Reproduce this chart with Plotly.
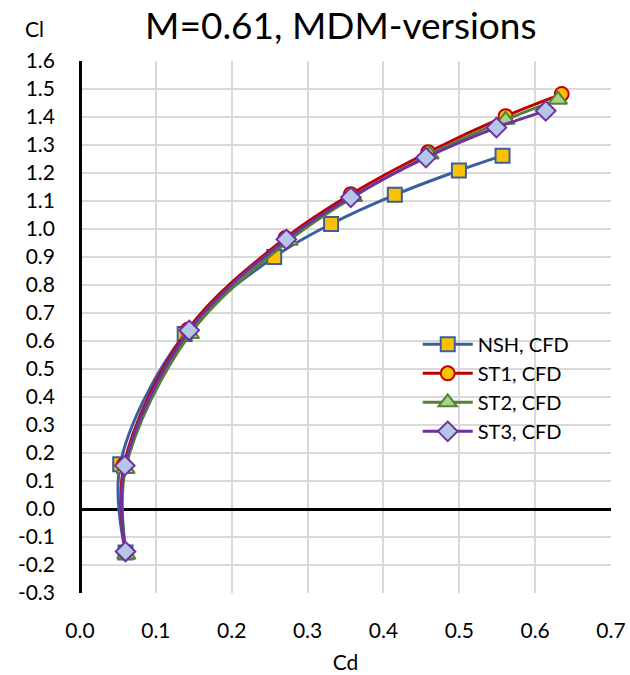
import plotly.graph_objects as go

# Data (Cd, Cl)
nsh_cd = [0.060, 0.053, 0.138, 0.256, 0.331, 0.415, 0.4995, 0.557]
nsh_cl = [-0.155, 0.160, 0.625, 0.900, 1.018, 1.122, 1.209, 1.262]

st1_cd = [0.060, 0.058, 0.142, 0.271, 0.357, 0.459, 0.561, 0.635]
st1_cl = [-0.152, 0.158, 0.640, 0.968, 1.124, 1.274, 1.403, 1.482]

st2_cd = [0.061, 0.060, 0.145, 0.275, 0.360, 0.461, 0.561, 0.630]
st2_cl = [-0.163, 0.143, 0.625, 0.958, 1.114, 1.266, 1.390, 1.462]

st3_cd = [0.060, 0.059, 0.144, 0.272, 0.357, 0.456, 0.549, 0.614]
st3_cl = [-0.152, 0.155, 0.638, 0.963, 1.113, 1.255, 1.362, 1.422]

names = ["NSH, CFD", "ST1, CFD", "ST2, CFD", "ST3, CFD"]
line_colors = ["#3A5F9E", "#C00000", "#548235", "#7030A0"]
fill_colors = ["#FFC000", "#FFC000", "#A9D18E", "#B4C7E7"]
symbols = ["square", "circle", "triangle-up", "diamond"]
sizes = [14, 14, 16, 15]

xs = [nsh_cd, st1_cd, st2_cd, st3_cd]
ys = [nsh_cl, st1_cl, st2_cl, st3_cl]

x_ticks = [0.0, 0.1, 0.2, 0.3, 0.4, 0.5, 0.6, 0.7]
y_ticks = [round(-0.3 + 0.1 * i, 1) for i in range(20)]

font = "Lato, 'Open Sans', sans-serif"

fig = go.Figure()
for x, y, n, lc, fc, s, sz in zip(xs, ys, names, line_colors, fill_colors, symbols, sizes):
    fig.add_trace(go.Scatter(
        x=x, y=y, name=n, mode="lines+markers",
        line=dict(color=lc, width=3, shape="spline", smoothing=1.0),
        marker=dict(symbol=s, size=sz, color=fc, line=dict(color=lc, width=2)),
    ))

fig.update_layout(
    width=630, height=675,
    margin=dict(l=80, r=19, t=61, b=82, autoexpand=False),
    paper_bgcolor="white", plot_bgcolor="white",
    font=dict(family=font, color="#000000", size=21),
    title=dict(text="M=0.61, MDM-versions", x=0.541, xanchor="center",
               y=0.962, yanchor="middle", font=dict(size=37, family=font)),
    showlegend=True,
    legend=dict(x=0.636, y=0.504, xanchor="left", yanchor="top",
                bgcolor="rgba(255,255,255,0)", font=dict(size=20, family=font),
                itemwidth=50, tracegroupgap=0),
    annotations=[dict(text="Cl", xref="x domain", yref="y domain",
                      x=-0.085, y=1.062, xanchor="center", yanchor="middle",
                      showarrow=False, font=dict(size=21, family=font))],
)

fig.update_xaxes(
    range=[0, 0.7], tickvals=x_ticks, ticktext=[f"{v:.1f}" for v in x_ticks],
    showgrid=True, gridcolor="#D9D9D9", gridwidth=1.5, automargin=False,
    zeroline=True, zerolinecolor="#000000", zerolinewidth=2.5,
    showline=False, ticks="", ticklabelstandoff=23, ticklabeloverflow="allow",
    title=dict(text="Cd", standoff=14, font=dict(size=21, family=font)),
    tickfont=dict(size=21, family=font),
)
fig.update_yaxes(
    range=[-0.3, 1.6], tickvals=y_ticks, ticktext=[f"{v:.1f}" for v in y_ticks],
    showgrid=True, gridcolor="#D9D9D9", gridwidth=1.5, automargin=False,
    zeroline=True, zerolinecolor="#000000", zerolinewidth=2.5,
    showline=False, ticks="", ticklabelstandoff=24, ticklabeloverflow="allow",
    tickfont=dict(size=21, family=font),
)

fig.write_html("out.html", config={"displayModeBar": False})

# remove the default page margin so the 630x675 figure fits the window exactly
with open("out.html", "r", encoding="utf-8") as f:
    html = f.read()
html = html.replace("<head>", "<head><style>html,body{margin:0;padding:0;overflow:hidden;}</style>", 1)
with open("out.html", "w", encoding="utf-8") as f:
    f.write(html)
